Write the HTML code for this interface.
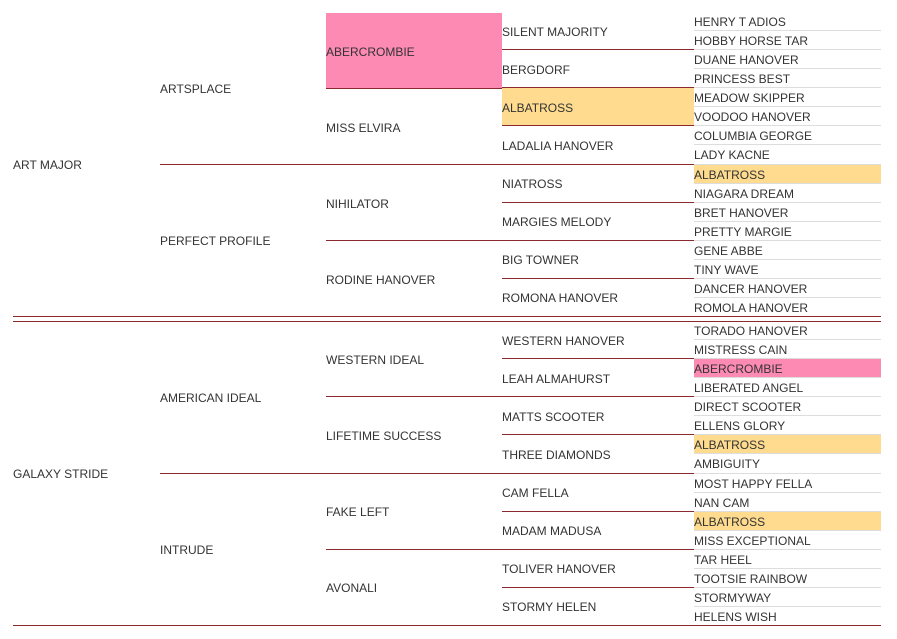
<!DOCTYPE html>
<html><head><meta charset="utf-8"><style>
*{margin:0;padding:0;box-sizing:border-box}
body{width:897px;height:639px;background:#fff;position:relative;overflow:hidden;font-family:"Liberation Sans",sans-serif;font-size:12px;color:#333}
.half{position:absolute;left:13px;width:868px;height:304px;display:flex}
.col{display:flex;flex-direction:column;height:304px}
.c1{width:147px}.c2{width:166px}.c3{width:176px}.c4{width:192px}.c5{width:187px}
.col div{flex:1;display:flex;align-items:center;white-space:nowrap;border-bottom:1px solid #8b2a2e;padding-top:2px}
.col div:last-child{border-bottom:none}
.c5 div{border-bottom:1px solid #ddd}
.pk{background:#fd8ab3}.yl{background:#fedb8e}
.ln{position:absolute;left:13px;width:868px;height:1px;background:#8b2a2e}
</style></head><body>
<div class="half" style="top:12px">
<div class="col c1"><div>ART MAJOR</div></div>
<div class="col c2"><div>ARTSPLACE</div><div>PERFECT PROFILE</div></div>
<div class="col c3"><div class="pk" style="margin-top:1px">ABERCROMBIE</div><div>MISS ELVIRA</div><div>NIHILATOR</div><div>RODINE HANOVER</div></div>
<div class="col c4"><div>SILENT MAJORITY</div><div>BERGDORF</div><div class="yl">ALBATROSS</div><div>LADALIA HANOVER</div><div>NIATROSS</div><div>MARGIES MELODY</div><div>BIG TOWNER</div><div>ROMONA HANOVER</div></div>
<div class="col c5"><div>HENRY T ADIOS</div><div>HOBBY HORSE TAR</div><div>DUANE HANOVER</div><div>PRINCESS BEST</div><div>MEADOW SKIPPER</div><div>VOODOO HANOVER</div><div>COLUMBIA GEORGE</div><div>LADY KACNE</div><div class="yl">ALBATROSS</div><div>NIAGARA DREAM</div><div>BRET HANOVER</div><div>PRETTY MARGIE</div><div>GENE ABBE</div><div>TINY WAVE</div><div>DANCER HANOVER</div><div>ROMOLA HANOVER</div></div>
</div>
<div class="ln" style="top:316px"></div>
<div class="ln" style="top:321px"></div>
<div class="half" style="top:321px">
<div class="col c1"><div>GALAXY STRIDE</div></div>
<div class="col c2"><div>AMERICAN IDEAL</div><div>INTRUDE</div></div>
<div class="col c3"><div>WESTERN IDEAL</div><div>LIFETIME SUCCESS</div><div>FAKE LEFT</div><div>AVONALI</div></div>
<div class="col c4"><div>WESTERN HANOVER</div><div>LEAH ALMAHURST</div><div>MATTS SCOOTER</div><div>THREE DIAMONDS</div><div>CAM FELLA</div><div>MADAM MADUSA</div><div>TOLIVER HANOVER</div><div>STORMY HELEN</div></div>
<div class="col c5"><div>TORADO HANOVER</div><div>MISTRESS CAIN</div><div class="pk">ABERCROMBIE</div><div>LIBERATED ANGEL</div><div>DIRECT SCOOTER</div><div>ELLENS GLORY</div><div class="yl">ALBATROSS</div><div>AMBIGUITY</div><div>MOST HAPPY FELLA</div><div>NAN CAM</div><div class="yl">ALBATROSS</div><div>MISS EXCEPTIONAL</div><div>TAR HEEL</div><div>TOOTSIE RAINBOW</div><div>STORMYWAY</div><div>HELENS WISH</div></div>
</div>
<div class="ln" style="top:625px"></div>
</body></html>
